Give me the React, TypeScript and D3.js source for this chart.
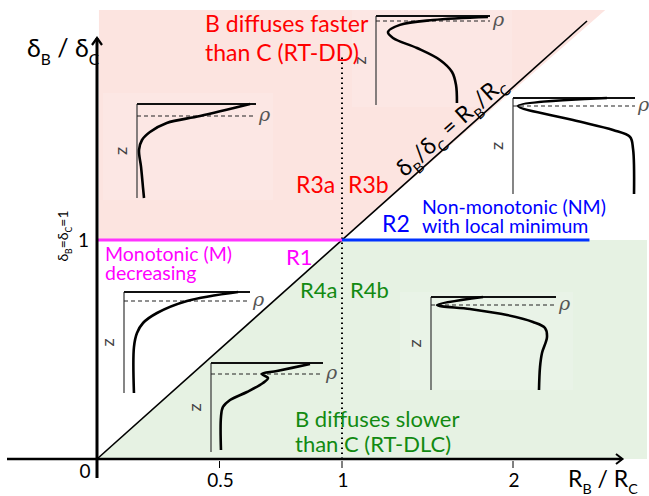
import * as React from 'react'
import * as d3 from 'd3'

// axis ticks (R_B / R_C) and the delta ratio marks
const xTicks = [0.5, 1, 2]
const xTickLabels = ['0.5', '1', '2']
const yTicks = [1]

// region boundaries, in (R_B/R_C, delta_B/delta_C) units
const topRatio = 2.05
const rightRatio = 2.245
const diagonalEnd = 2.0
const blueEnd = 2.01
const dottedTop = 1.836

// schematic density profiles: [rho fraction, depth fraction]
const profileR3a = [[0.95, 0], [0.53, 0.128], [0.25, 0.202], [0.109, 0.298], [0.042, 0.383], [0.017, 0.489], [0.034, 0.67], [0.05, 0.883], [0.059, 1]]
const profileR3b = [[0.982, 0.011], [0.5, 0.045], [0.21, 0.1], [0.105, 0.18], [0.149, 0.247], [0.36, 0.36], [0.561, 0.494], [0.667, 0.629], [0.702, 0.775], [0.71, 0.978]]
const profileR2 = [[0.77, 0], [0.041, 0.083], [0.492, 0.229], [0.82, 0.333], [0.959, 0.406], [0.984, 0.53], [0.992, 1]]
const profileR1 = [[0.905, 0], [0.5, 0.089], [0.262, 0.208], [0.151, 0.307], [0.103, 0.406], [0.079, 0.545], [0.079, 1]]
const profileR4a = [[0.884, 0.011], [0.589, 0.09], [0.455, 0.124], [0.509, 0.169], [0.464, 0.225], [0.321, 0.326], [0.17, 0.416], [0.107, 0.494], [0.089, 0.607], [0.089, 0.978]]
const profileR4b = [[0.416, 0], [0.048, 0.086], [0.312, 0.129], [0.608, 0.194], [0.816, 0.269], [0.912, 0.333], [0.928, 0.43], [0.888, 0.602], [0.872, 0.753], [0.864, 1]]

const FONT = 'Lato, "Open Sans", sans-serif'

export default function App() {
  const ref = React.useRef(null)

  React.useEffect(() => {
    const svg = d3.select(ref.current)
    svg.selectAll('*').remove()

    const xTick = d3.scaleLinear().domain([0, 1, 2]).range([97, 342, 513])
    const xLin = d3.scaleLinear().domain([0, 1]).range([97, 342])
    const y = d3.scaleLinear().domain([0, 1]).range([459, 240])

    const poly = pts => 'M' + pts.map(p => `${xLin(p[0])},${y(p[1])}`).join('L') + 'Z'

    // shaded regions
    svg.append('path')
      .attr('d', poly([[0.008, 1], [0.008, topRatio], [topRatio * 1.012, topRatio], [1, 1]]))
      .attr('fill', '#fce4e0')
    svg.append('path')
      .attr('d', poly([[0, 0], [1, 1], [rightRatio, 1], [rightRatio, 0]]))
      .attr('fill', '#e6f2e3')

    const insets = [
      { curve: profileR3a, x: 137, y: 104, w: 119, h: 94, dash: 0.128, bg: [103, 93, 170, 107] },
      { curve: profileR3b, x: 376, y: 16, w: 114, h: 89, dash: 0.056, bg: [352, 5, 160, 102] },
      { curve: profileR2, x: 513, y: 98, w: 122, h: 96, dash: 0.083, bg: null },
      { curve: profileR1, x: 124, y: 292, w: 126, h: 101, dash: 0.089, bg: null },
      { curve: profileR4a, x: 211, y: 363, w: 112, h: 89, dash: 0.124, bg: null },
      { curve: profileR4b, x: 431, y: 297, w: 125, h: 93, dash: 0.086, bg: [400, 292, 173, 98] },
    ]

    insets.forEach(d => {
      if (d.bg) {
        svg.append('rect')
          .attr('x', d.bg[0]).attr('y', d.bg[1])
          .attr('width', d.bg[2]).attr('height', d.bg[3])
          .attr('fill', '#fff').attr('opacity', 0.14)
      }
    })

    // dotted R_B = R_C line
    svg.append('line')
      .attr('x1', xLin(1)).attr('x2', xLin(1))
      .attr('y1', y(0)).attr('y2', y(dottedTop))
      .attr('stroke', '#000').attr('stroke-width', 2)
      .attr('stroke-dasharray', '1.5,3.5')

    // diagonal delta ratio = R ratio
    svg.append('line')
      .attr('x1', xLin(0)).attr('y1', y(0))
      .attr('x2', xLin(diagonalEnd)).attr('y2', y(diagonalEnd))
      .attr('stroke', '#000').attr('stroke-width', 1.6)

    svg.append('line')
      .attr('x1', xLin(0)).attr('x2', xLin(1))
      .attr('y1', y(1)).attr('y2', y(1))
      .attr('stroke', '#ff33ff').attr('stroke-width', 3)
    svg.append('line')
      .attr('x1', xLin(1)).attr('x2', xLin(blueEnd))
      .attr('y1', y(1)).attr('y2', y(1))
      .attr('stroke', '#0033ff').attr('stroke-width', 3)

    // axes
    svg.append('line')
      .attr('x1', 7).attr('x2', 622).attr('y1', y(0)).attr('y2', y(0))
      .attr('stroke', '#000').attr('stroke-width', 2.5)
    svg.append('path')
      .attr('d', `M616,${y(0) - 5}L622.5,${y(0)}L616,${y(0) + 5}`)
      .attr('fill', 'none').attr('stroke', '#000').attr('stroke-width', 2)
    svg.append('line')
      .attr('x1', xLin(0)).attr('x2', xLin(0)).attr('y1', 478).attr('y2', 38)
      .attr('stroke', '#000').attr('stroke-width', 3)
    svg.append('path')
      .attr('d', `M${xLin(0) - 5},45L${xLin(0)},38L${xLin(0) + 5},45`)
      .attr('fill', 'none').attr('stroke', '#000').attr('stroke-width', 2.2)

    const ticks = svg.append('g').attr('font-family', FONT).attr('font-size', 19)
    xTicks.forEach((t, i) => {
      ticks.append('line')
        .attr('x1', xTick(t)).attr('x2', xTick(t))
        .attr('y1', y(0) + 2).attr('y2', y(0) + 9)
        .attr('stroke', '#000').attr('stroke-width', 1)
      ticks.append('text')
        .attr('x', xTick(t) + 1).attr('y', 487)
        .attr('text-anchor', 'middle')
        .text(xTickLabels[i])
    })
    ticks.append('text').attr('x', 85).attr('y', 478).attr('text-anchor', 'middle').text('0')
    yTicks.forEach(t => {
      ticks.append('text').attr('x', 89).attr('y', y(t) + 7).attr('text-anchor', 'end').text(String(t))
    })

    // text with subscripts
    const rich = (g, parts, size) => {
      let shifted = false
      parts.forEach(([t, sub]) => {
        const ts = g.append('tspan').text(t)
        if (sub && !shifted) { ts.attr('dy', size * 0.3).attr('font-size', size * 0.62); shifted = true }
        else if (sub) ts.attr('font-size', size * 0.62)
        else if (shifted) { ts.attr('dy', -size * 0.3); shifted = false }
      })
      return g
    }

    rich(svg.append('text').attr('x', 27).attr('y', 57).attr('font-family', FONT).attr('font-size', 25),
      [['δ'], ['B', true], [' / δ'], ['C', true]], 25)
    rich(svg.append('text').attr('x', 568).attr('y', 487).attr('font-family', FONT).attr('font-size', 23),
      [['R'], ['B', true], [' / R'], ['C', true]], 23)

    rich(svg.append('text')
      .attr('transform', 'translate(68,236) rotate(-90)')
      .attr('text-anchor', 'middle')
      .attr('font-family', FONT).attr('font-size', 14),
      [['δ'], ['B', true], ['=δ'], ['C', true], ['=1']], 14)

    const angle = Math.atan2(y(1) - y(0), xLin(1) - xLin(0)) * 180 / Math.PI
    rich(svg.append('text')
      .attr('transform', `translate(456,132) rotate(${angle})`)
      .attr('text-anchor', 'middle')
      .attr('font-family', FONT).attr('font-size', 23),
      [['δ'], ['B', true], ['/δ'], ['C', true], [' = R'], ['B', true], ['/R'], ['C', true]], 23)

    // profile insets
    insets.forEach(d => {
      const sx = d3.scaleLinear().domain([0, 1]).range([d.x, d.x + d.w])
      const sy = d3.scaleLinear().domain([0, 1]).range([d.y, d.y + d.h])
      const g = svg.append('g')
      g.append('line')
        .attr('x1', sx(0)).attr('x2', sx(0)).attr('y1', sy(0)).attr('y2', sy(1))
        .attr('stroke', '#444').attr('stroke-width', 1.3)
      g.append('line')
        .attr('x1', sx(0)).attr('x2', sx(1)).attr('y1', sy(0)).attr('y2', sy(0))
        .attr('stroke', '#111').attr('stroke-width', 1.8)
      g.append('line')
        .attr('x1', sx(0)).attr('x2', sx(1)).attr('y1', sy(d.dash)).attr('y2', sy(d.dash))
        .attr('stroke', '#222').attr('stroke-width', 1.1).attr('stroke-dasharray', '4,3')
      const line = d3.line()
        .x(p => sx(p[0])).y(p => sy(p[1]))
        .curve(d3.curveCatmullRom.alpha(0.5))
      g.append('path')
        .attr('d', line(d.curve))
        .attr('fill', 'none').attr('stroke', '#000').attr('stroke-width', 2.6)
      g.append('text')
        .attr('x', sx(1) + 3).attr('y', sy(d.dash) + 5)
        .attr('font-family', '"DejaVu Serif", serif').attr('font-style', 'italic')
        .attr('font-size', 19).attr('fill', '#555')
        .text('ρ')
      g.append('text')
        .attr('transform', `translate(${sx(0) - 17},${sy(0.5)}) rotate(-90)`)
        .attr('text-anchor', 'middle').attr('dominant-baseline', 'central')
        .attr('font-family', FONT).attr('font-size', 18).attr('fill', '#444')
        .text('z')
    })

    // region labels
    const labels = [
      { t: 'B diffuses faster', x: 205, y: 32, c: '#ff0000', s: 23 },
      { t: 'than C (RT-DD)', x: 205, y: 61, c: '#ff0000', s: 23 },
      { t: 'R3a', x: 296, y: 193, c: '#ff0000', s: 23 },
      { t: 'R3b', x: 348, y: 193, c: '#ff0000', s: 23 },
      { t: 'R2', x: 382, y: 232, c: '#0000ff', s: 23 },
      { t: 'Non-monotonic (NM)', x: 422, y: 214, c: '#0000ff', s: 19.5 },
      { t: 'with local minimum', x: 422, y: 233, c: '#0000ff', s: 19.5 },
      { t: 'Monotonic (M)', x: 105, y: 261, c: '#ff00ff', s: 19.5 },
      { t: 'decreasing', x: 105, y: 280, c: '#ff00ff', s: 19.5 },
      { t: 'R1', x: 286, y: 265, c: '#ff00ff', s: 22 },
      { t: 'R4a', x: 300, y: 298, c: '#128a12', s: 22 },
      { t: 'R4b', x: 350, y: 298, c: '#128a12', s: 22 },
      { t: 'B diffuses slower', x: 295, y: 427, c: '#128a12', s: 22 },
      { t: 'than C (RT-DLC)', x: 295, y: 452, c: '#128a12', s: 22 },
    ]
    svg.append('g').selectAll('text')
      .data(labels)
      .enter().append('text')
      .attr('x', d => d.x).attr('y', d => d.y)
      .attr('fill', d => d.c).attr('font-size', d => d.s)
      .attr('font-family', FONT)
      .text(d => d.t)
  }, [])

  return (
    <svg ref={ref} width={649} height={496}
      style={{ position: 'absolute', left: 0, top: 0, background: '#fff' }} />
  )
}
